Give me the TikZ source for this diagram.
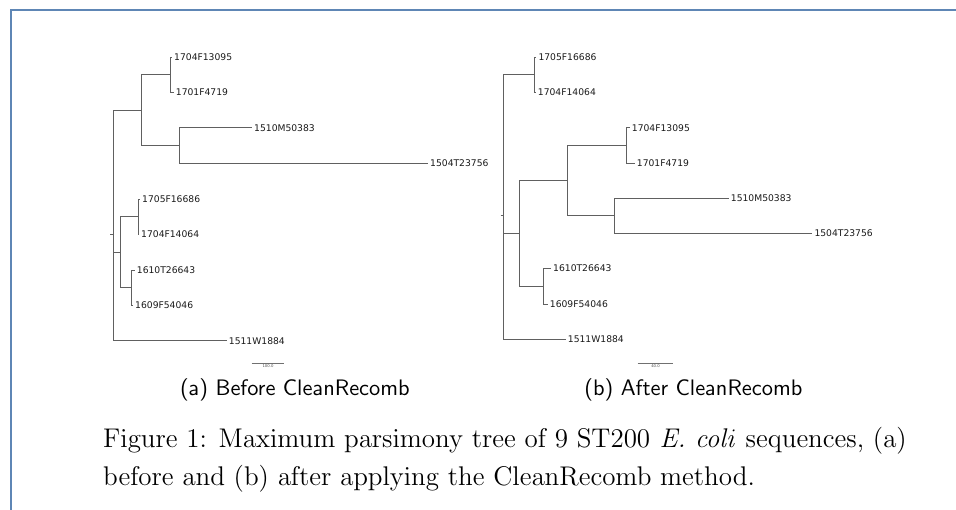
\documentclass[tikz,border=0pt]{standalone}
\usepackage{fontspec}
\newfontfamily\treefont{DejaVu Sans}
% caption fonts at fixed design sizes
\font\capfnt=cmr12 at 27pt
\font\capit=cmti12 at 27pt
\font\subfnt=cmss10 at 22.4pt
\definecolor{framecol}{HTML}{5E86B5}
\definecolor{treegray}{HTML}{606060}
\definecolor{bargray}{HTML}{707070}
\tikzset{
  branch/.style={draw=treegray, line width=0.85pt},
  leaf/.style={anchor=west, inner xsep=2pt, inner ysep=1pt,
    font=\treefont\fontsize{9.2}{11}\selectfont, text=black!90},
  barlabel/.style={below, inner sep=0.8pt, font=\treefont\fontsize{3.8}{4}\selectfont, text=black!70},
  scalebar/.style={draw=bargray, line width=0.8pt},
  frameline/.style={draw=framecol, line width=2pt},
}
\begin{document}
\begin{tikzpicture}[x=1pt, y=-1pt]
\useasboundingbox (0,0) rectangle (956,510);

% frame
\coordinate (fr1) at (956,10.5);
\coordinate (fr2) at (10.7,10.5);
\coordinate (fr3) at (10.7,510);
\draw[frameline] (fr1) -- (fr2) -- (fr3);

% ---------- tree (a) ----------
\coordinate (lr0) at (110,234.3);
\coordinate (lr)  at (113.7,234.3);
\coordinate (la)  at (141.7,110);
\coordinate (la1) at (170.3,74.3);
\coordinate (la2) at (179,145.7);
\coordinate (lb)  at (120,252.3);
\coordinate (lb1) at (138.3,216.3);
\coordinate (lb2) at (131.7,287.3);

\node[leaf] (l1) at (172,57.3)    {1704F13095};
\node[leaf] (l2) at (173.7,92.3)  {1701F4719};
\node[leaf] (l3) at (252,127.7)   {1510M50383};
\node[leaf] (l4) at (428,163.3)   {1504T23756};
\node[leaf] (l5) at (140,199)     {1705F16686};
\node[leaf] (l6) at (139,234.3)   {1704F14064};
\node[leaf] (l7) at (134.7,270)   {1610T26643};
\node[leaf] (l8) at (133,305.3)   {1609F54046};
\node[leaf] (l9) at (226.7,340.7) {1511W1884};

\draw[branch] (lr0) -- (lr);
\draw[branch] (lr) |- (la);
\draw[branch] (lr) |- (lb);
\draw[branch] (lr) |- (l9.west);
\draw[branch] (la) |- (la1);
\draw[branch] (la) |- (la2);
\draw[branch] (la1) |- (l1.west);
\draw[branch] (la1) |- (l2.west);
\draw[branch] (la2) |- (l3.west);
\draw[branch] (la2) |- (l4.west);
\draw[branch] (lb) |- (lb1);
\draw[branch] (lb) |- (lb2);
\draw[branch] (lb1) |- (l5.west);
\draw[branch] (lb1) |- (l6.west);
\draw[branch] (lb2) |- (l7.west);
\draw[branch] (lb2) |- (l8.west);

\coordinate (sa1) at (251.7,363.3);
\coordinate (sa2) at (284.3,363.3);
\draw[scalebar] (sa1) -- (sa2) node[midway, barlabel] (sal) {100.0};

% ---------- tree (b) ----------
\coordinate (rr0) at (500.7,215.7);
\coordinate (rr)  at (503,215.7);
\coordinate (rc)  at (534.3,74.3);
\coordinate (rd)  at (519.3,233.3);
\coordinate (rd1) at (567.3,180.3);
\coordinate (rda) at (626.7,145.3);
\coordinate (rdb) at (614.7,215.7);
\coordinate (rd2) at (543.3,286);

\node[leaf] (r1) at (536.3,57.3)  {1705F16686};
\node[leaf] (r2) at (535.7,92.3)  {1704F14064};
\node[leaf] (r3) at (629.7,127.7) {1704F13095};
\node[leaf] (r4) at (634.7,163)   {1701F4719};
\node[leaf] (r5) at (728.7,198.3) {1510M50383};
\node[leaf] (r6) at (812.3,233.3) {1504T23756};
\node[leaf] (r7) at (551,268.3)   {1610T26643};
\node[leaf] (r8) at (547.7,304)   {1609F54046};
\node[leaf] (r9) at (565.7,339)   {1511W1884};

\draw[branch] (rr0) -- (rr);
\draw[branch] (rr) |- (rc);
\draw[branch] (rr) |- (rd);
\draw[branch] (rr) |- (r9.west);
\draw[branch] (rc) |- (r1.west);
\draw[branch] (rc) |- (r2.west);
\draw[branch] (rd) |- (rd1);
\draw[branch] (rd) |- (rd2);
\draw[branch] (rd1) |- (rda);
\draw[branch] (rd1) |- (rdb);
\draw[branch] (rda) |- (r3.west);
\draw[branch] (rda) |- (r4.west);
\draw[branch] (rdb) |- (r5.west);
\draw[branch] (rdb) |- (r6.west);
\draw[branch] (rd2) |- (r7.west);
\draw[branch] (rd2) |- (r8.west);

\coordinate (sb1) at (637.7,363.3);
\coordinate (sb2) at (673.3,363.3);
\draw[scalebar] (sb1) -- (sb2) node[midway, barlabel] (sbl) {40.0};

% ---------- captions ----------
\node[anchor=base, inner sep=0] (capa) at (295,396) {\subfnt (a) Before CleanRecomb};
\node[anchor=base, inner sep=0] (capb) at (693.5,396) {\subfnt (b) After CleanRecomb};
\node[anchor=base west, inner sep=0] (cap1) at (103,447)
  {\capfnt Figure 1: Maximum parsimony tree of 9 ST200 {\capit E. coli\/} sequences, (a)};
\node[anchor=base west, inner sep=0] (cap2) at (103,485)
  {\capfnt before and (b) after applying the CleanRecomb method.};
\end{tikzpicture}
\end{document}
